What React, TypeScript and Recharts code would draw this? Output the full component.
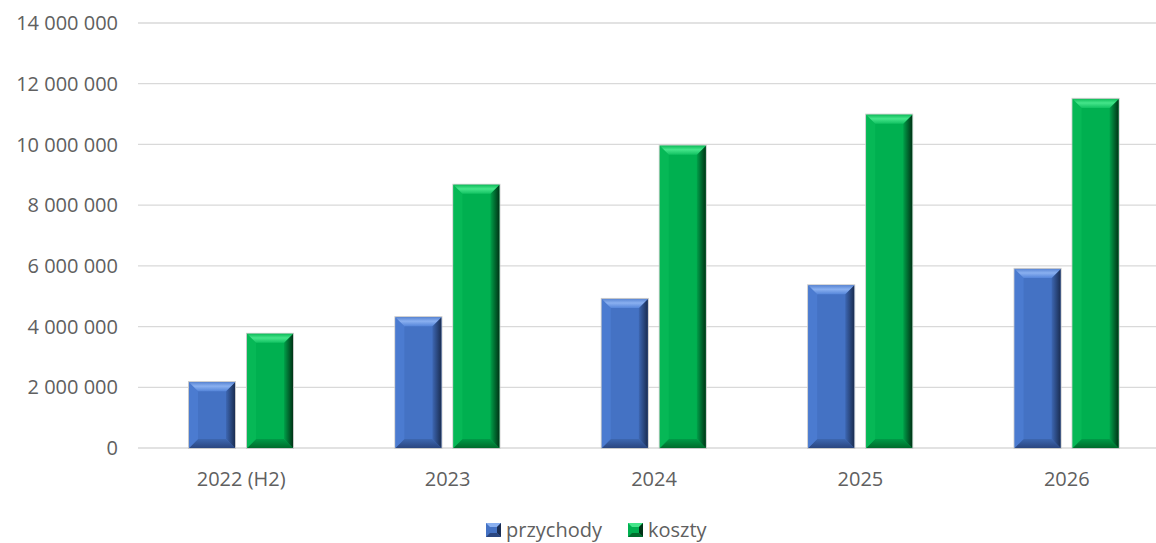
import { Bar, BarChart, CartesianGrid, Legend, XAxis, YAxis } from "recharts";

const categories = ["2022 (H2)", "2023", "2024", "2025", "2026"];
const przychody = [2170000, 4310000, 4910000, 5360000, 5900000];
const koszty = [3760000, 8670000, 9960000, 10980000, 11500000];
const yTicks = [0, 2000000, 4000000, 6000000, 8000000, 10000000, 12000000, 14000000];

const data = categories.map((year, i) => ({ year, przychody: przychody[i], koszty: koszty[i] }));

const FONT = "'Open Sans', sans-serif";
const TEXT = "#606060";

type Tone = { base: string; top: [string, string, string]; right: [string, string]; left: string; bottom: [string, string] };

const BLUE: Tone = {
  base: "#4472C4",
  top: ["#5a86d4", "#8ab0f0", "#5686da"],
  right: ["#3d67b3", "#1a2d52"],
  left: "#4b7bd0",
  bottom: ["#3d67b0", "#2a4680"],
};
const GREEN: Tone = {
  base: "#00B050",
  top: ["#0fbd5b", "#45e58a", "#12c262"],
  right: ["#00a049", "#003416"],
  left: "#06b856",
  bottom: ["#009a47", "#006c2c"],
};

const fmt = (v: number) => String(v).replace(/\B(?=(\d{3})+(?!\d))/g, " ");

// słupek z fazowaniem jak w Excelu
function bevel(tone: Tone, key: string) {
  return (props: any) => {
    const { x, y, width: w, height: h, index } = props;
    if (!h || h <= 0) return <g />;
    const b = Math.min(9, w / 4, h / 2);
    const id = `${key}-${index}`;
    return (
      <g>
        <defs>
          <linearGradient id={`t-${id}`} x1="0" y1="0" x2="0" y2="1">
            <stop offset="0%" stopColor={tone.top[0]} />
            <stop offset="45%" stopColor={tone.top[1]} />
            <stop offset="100%" stopColor={tone.top[2]} />
          </linearGradient>
          <linearGradient id={`r-${id}`} x1="0" y1="0" x2="1" y2="0">
            <stop offset="0%" stopColor={tone.right[0]} />
            <stop offset="100%" stopColor={tone.right[1]} />
          </linearGradient>
          <linearGradient id={`b-${id}`} x1="0" y1="0" x2="0" y2="1">
            <stop offset="0%" stopColor={tone.bottom[0]} />
            <stop offset="100%" stopColor={tone.bottom[1]} />
          </linearGradient>
        </defs>
        <rect x={x - 0.5} y={y - 0.5} width={w + 1} height={h + 1} fill="none" stroke="#c9c9c9" />
        <rect x={x} y={y} width={w} height={h} fill={tone.base} />
        <polygon points={`${x},${y + h} ${x + w},${y + h} ${x + w - b},${y + h - b} ${x + b},${y + h - b}`} fill={`url(#b-${id})`} />
        <polygon points={`${x},${y} ${x + b},${y + b} ${x + b},${y + h - b} ${x},${y + h}`} fill={tone.left} />
        <polygon points={`${x + w},${y} ${x + w},${y + h} ${x + w - b},${y + h - b} ${x + w - b},${y + b}`} fill={`url(#r-${id})`} />
        <polygon points={`${x},${y} ${x + w},${y} ${x + w - b},${y + b} ${x + b},${y + b}`} fill={`url(#t-${id})`} />
      </g>
    );
  };
}

function LegendIcon({ tone }: { tone: Tone }) {
  return (
    <svg width={15} height={14} style={{ marginRight: 5 }}>
      <rect x={0} y={0} width={15} height={14} fill={tone.base} />
      <polygon points="0,0 15,0 11,4 4,4" fill={tone.top[1]} />
      <polygon points="15,0 15,14 11,10 11,4" fill={tone.right[1]} />
      <polygon points="0,14 15,14 11,10 4,10" fill={tone.bottom[1]} />
    </svg>
  );
}

function LegendContent() {
  const items: [string, Tone][] = [
    ["przychody", BLUE],
    ["koszty", GREEN],
  ];
  return (
    <div style={{ display: "flex", alignItems: "center", height: 22, fontFamily: FONT, fontSize: 20, color: TEXT }}>
      {items.map(([name, tone]) => (
        <div key={name} style={{ display: "flex", alignItems: "center", marginRight: 26, lineHeight: "22px" }}>
          <LegendIcon tone={tone} />
          <span>{name}</span>
        </div>
      ))}
    </div>
  );
}

export default function App() {
  return (
    <div style={{ position: "absolute", left: 0, top: 0, width: 1156, height: 543, overflow: "hidden", background: "#fff" }}>
      <BarChart
        width={1172}
        height={543}
        data={data}
        margin={{ top: 23, right: 2, left: 0, bottom: 13 }}
        barSize={46}
        barGap={12}
        barCategoryGap={40}
      >
        <CartesianGrid vertical={false} stroke="#d9d9d9" strokeWidth={1.3} />
        <XAxis
          dataKey="year"
          height={60}
          tickLine={false}
          axisLine={false}
          tickMargin={18}
          tick={{ fill: TEXT, fontSize: 20, fontFamily: FONT }}
        />
        <YAxis
          width={138}
          domain={[0, 14000000]}
          ticks={yTicks}
          tickLine={false}
          axisLine={false}
          tickMargin={14}
          tickFormatter={fmt}
          tick={{ fill: TEXT, fontSize: 20, fontFamily: FONT }}
        />
        <Legend
          content={<LegendContent />}
          wrapperStyle={{ top: 519, bottom: "auto", left: 486, width: 320, height: 22 }}
        />
        <Bar dataKey="przychody" name="przychody" fill={BLUE.base} shape={bevel(BLUE, "p")} isAnimationActive={false} />
        <Bar dataKey="koszty" name="koszty" fill={GREEN.base} shape={bevel(GREEN, "k")} isAnimationActive={false} />
      </BarChart>
    </div>
  );
}
